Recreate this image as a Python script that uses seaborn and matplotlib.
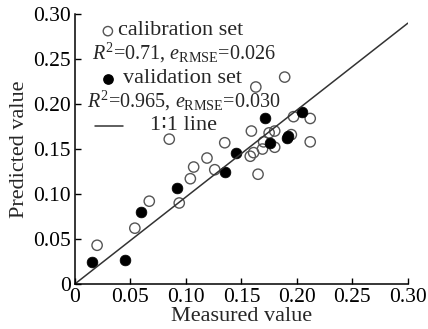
import matplotlib
matplotlib.use('Agg')
import pandas as pd
import seaborn as sb
import matplotlib.pyplot as plt

# calibration set (open circles)
cal_x = [0.020, 0.054, 0.067, 0.094, 0.085, 0.104, 0.107, 0.119, 0.126, 0.135,
         0.158, 0.161, 0.159, 0.163, 0.165, 0.169, 0.170, 0.175, 0.180, 0.180,
         0.189, 0.195, 0.197, 0.212, 0.212]
cal_y = [0.043, 0.062, 0.092, 0.090, 0.161, 0.117, 0.130, 0.140, 0.127, 0.157,
         0.142, 0.146, 0.170, 0.219, 0.122, 0.150, 0.158, 0.168, 0.170, 0.152,
         0.230, 0.166, 0.186, 0.184, 0.158]
# validation set (filled circles)
val_x = [0.015, 0.045, 0.060, 0.092, 0.135, 0.145, 0.171, 0.176, 0.191, 0.192, 0.205]
val_y = [0.024, 0.027, 0.080, 0.107, 0.125, 0.146, 0.185, 0.157, 0.162, 0.165, 0.191]
# 1:1 line as drawn
line_x = [0, 0.30]
line_y = [0, 0.29]

ticks = [0, 0.05, 0.10, 0.15, 0.20, 0.25, 0.30]
tick_labels = ['0', '0.05', '0.10', '0.15', '0.20', '0.25', '0.30']

cal = pd.DataFrame({'x': cal_x, 'y': cal_y})
val = pd.DataFrame({'x': val_x, 'y': val_y})

sb.set_style('ticks')
plt.rcParams['font.family'] = ['Liberation Serif', 'DejaVu Serif', 'DejaVu Sans']
plt.rcParams['mathtext.fontset'] = 'custom'
plt.rcParams['mathtext.rm'] = 'Liberation Serif'
plt.rcParams['mathtext.it'] = 'Liberation Serif:italic'

fig = plt.figure(figsize=(4.28, 3.29), dpi=100)
ax = fig.add_axes([0.175, 0.137, 0.778, 0.82])

sb.lineplot(x=line_x, y=line_y, ax=ax, color='#333333', linewidth=1.1)
sb.scatterplot(data=cal, x='x', y='y', ax=ax, s=55, facecolor='none',
               edgecolor='#555555', linewidth=1.0, marker='o')
sb.scatterplot(data=val, x='x', y='y', ax=ax, s=60, color='black',
               edgecolor='black', linewidth=0.5, marker='o')

ax.set_xlim(0, 0.30)
ax.set_ylim(0, 0.30)
ax.set_xticks(ticks)
ax.set_xticklabels(tick_labels)
ax.set_yticks(ticks)
ax.set_yticklabels(tick_labels)
ax.tick_params(direction='in', length=4, width=1, labelsize=15.5, colors='black', pad=3)
sb.despine(ax=ax)
for s in ['left', 'bottom']:
    ax.spines[s].set_linewidth(1.1)
    ax.spines[s].set_color('black')
ax.set_xlabel('Measured value', fontsize=16, labelpad=0)
ax.set_ylabel('Predicted value', fontsize=16, labelpad=3)

# legend block
fs = 16
ax.scatter([0.099], [0.937], transform=ax.transAxes, s=45, facecolor='none',
           edgecolor='#555555', linewidth=1.0, clip_on=False)
ax.text(0.129, 0.922, 'calibration set', transform=ax.transAxes, fontsize=fs, va='baseline')
ax.text(0.051, 0.833, r'$R^2$=0.71, $e_{\mathrm{RMSE}}$=0.026', transform=ax.transAxes,
        fontsize=14.5, va='baseline')
ax.scatter([0.099], [0.759], transform=ax.transAxes, s=45, color='black', clip_on=False)
ax.text(0.144, 0.744, 'validation set', transform=ax.transAxes, fontsize=fs, va='baseline')
ax.text(0.036, 0.656, r'$R^2$=0.965, $e_{\mathrm{RMSE}}$=0.030', transform=ax.transAxes,
        fontsize=14.5, va='baseline')
ax.plot([0.060, 0.144], [0.585, 0.585], transform=ax.transAxes, color='#333333', linewidth=1.1)
ax.text(0.225, 0.570, '1\u22361 line', transform=ax.transAxes, fontsize=fs, va='baseline')

plt.savefig('out.png', dpi=100)
